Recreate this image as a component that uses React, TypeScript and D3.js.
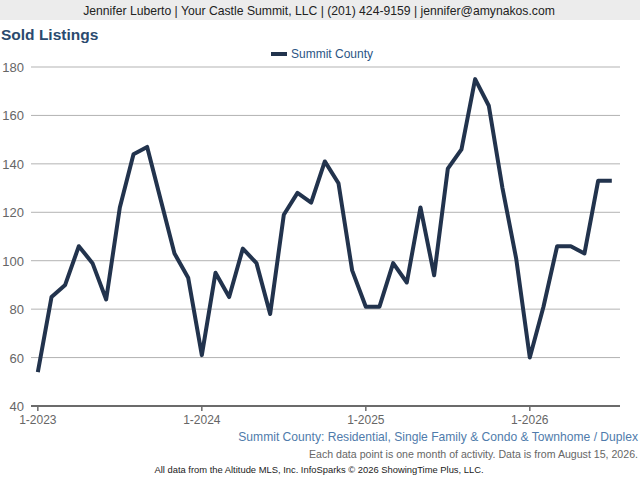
import { useEffect, useRef } from 'react'
import * as d3 from 'd3'

// Monthly sold listings, Jan 2023 – Jul 2026
const months: string[] = [
  '2023-01', '2023-02', '2023-03', '2023-04', '2023-05', '2023-06',
  '2023-07', '2023-08', '2023-09', '2023-10', '2023-11', '2023-12',
  '2024-01', '2024-02', '2024-03', '2024-04', '2024-05', '2024-06',
  '2024-07', '2024-08', '2024-09', '2024-10', '2024-11', '2024-12',
  '2025-01', '2025-02', '2025-03', '2025-04', '2025-05', '2025-06',
  '2025-07', '2025-08', '2025-09', '2025-10', '2025-11', '2025-12',
  '2026-01', '2026-02', '2026-03', '2026-04', '2026-05', '2026-06',
  '2026-07',
]
const summitCounty: number[] = [
  54, 85, 90, 106, 99, 84, 122, 144, 147, 125, 103, 93,
  61, 95, 85, 105, 99, 78, 119, 128, 124, 141, 132, 96,
  81, 81, 99, 91, 122, 94, 138, 146, 175, 164, 130, 101,
  60, 81, 106, 106, 103, 133, 133,
]
const yTicks: number[] = [40, 60, 80, 100, 120, 140, 160, 180]
const xTickIdx: number[] = [0, 12, 24, 36]
const xTickLabels: string[] = ['1-2023', '1-2024', '1-2025', '1-2026']

const W = 640
const H = 480
const FONT = '"Liberation Sans", Arial, sans-serif'

export default function App() {
  const svgRef = useRef<SVGSVGElement>(null)

  useEffect(() => {
    if (!svgRef.current) return
    const svg = d3.select(svgRef.current)
    svg.selectAll('*').remove()

    const left = 31
    const right = 620
    const top = 67
    const bottom = 406

    const x = d3.scaleLinear().domain([-0.5, months.length - 0.4]).range([left, right])
    const y = d3.scaleLinear().domain([40, 180]).range([bottom, top])

    // header band
    svg.append('rect')
      .attr('x', 0).attr('y', 0).attr('width', W).attr('height', 20)
      .attr('fill', '#ececec')
    svg.append('text')
      .attr('x', 319).attr('y', 15)
      .attr('text-anchor', 'middle')
      .style('font-size', '12.2px')
      .style('fill', '#222')
      .text('Jennifer Luberto | Your Castle Summit, LLC | (201) 424-9159 | jennifer@amynakos.com')

    svg.append('text')
      .attr('x', 1).attr('y', 40)
      .style('font-size', '15.5px')
      .style('font-weight', 'bold')
      .style('fill', '#2a4a6e')
      .text('Sold Listings')

    // legend
    svg.append('rect')
      .attr('x', 271).attr('y', 52).attr('width', 16).attr('height', 4)
      .attr('fill', '#22334d')
    svg.append('text')
      .attr('x', 291).attr('y', 58)
      .style('font-size', '12px')
      .style('fill', '#2b5585')
      .text('Summit County')

    // grid + y labels
    const grid = svg.append('g')
    grid.selectAll('line')
      .data(yTicks.filter(t => t !== 40))
      .enter().append('line')
      .attr('x1', left).attr('x2', right)
      .attr('y1', d => y(d)).attr('y2', d => y(d))
      .attr('stroke', '#b3b3b3')
      .attr('stroke-width', 1)
    grid.selectAll('text')
      .data(yTicks)
      .enter().append('text')
      .attr('x', 24)
      .attr('y', d => y(d) + 5)
      .attr('text-anchor', 'end')
      .style('font-size', '13px')
      .style('fill', '#666')
      .text(d => d)

    // x axis
    svg.append('line')
      .attr('x1', left).attr('x2', right)
      .attr('y1', bottom).attr('y2', bottom)
      .attr('stroke', '#6b6b6b')
      .attr('stroke-width', 2)
    const xt = svg.append('g')
    xt.selectAll('line')
      .data(xTickIdx)
      .enter().append('line')
      .attr('x1', d => x(d)).attr('x2', d => x(d))
      .attr('y1', bottom).attr('y2', bottom + 5)
      .attr('stroke', '#6b6b6b')
      .attr('stroke-width', 1.5)
    xt.selectAll('text')
      .data(xTickIdx)
      .enter().append('text')
      .attr('x', d => x(d))
      .attr('y', 424)
      .attr('text-anchor', 'middle')
      .style('font-size', '12px')
      .style('fill', '#666')
      .text((_, i) => xTickLabels[i])

    // series line
    const line = d3.line<number>()
      .x((_, i) => x(i))
      .y(d => y(d))
    svg.append('path')
      .datum(summitCounty)
      .attr('fill', 'none')
      .attr('stroke', '#22334d')
      .attr('stroke-width', 4)
      .attr('stroke-linejoin', 'round')
      .attr('d', line)

    // footer
    svg.append('text')
      .attr('x', 638).attr('y', 441)
      .attr('text-anchor', 'end')
      .style('font-size', '12.1px')
      .style('fill', '#4f7bab')
      .text('Summit County: Residential, Single Family & Condo & Townhome / Duplex')
    svg.append('text')
      .attr('x', 638).attr('y', 458)
      .attr('text-anchor', 'end')
      .style('font-size', '10.6px')
      .style('fill', '#666')
      .text('Each data point is one month of activity. Data is from August 15, 2026.')
    svg.append('text')
      .attr('x', 319).attr('y', 473)
      .attr('text-anchor', 'middle')
      .style('font-size', '9.4px')
      .style('fill', '#222')
      .text('All data from the Altitude MLS, Inc. InfoSparks © 2026 ShowingTime Plus, LLC.')
  }, [])

  return (
    <svg
      ref={svgRef}
      width={W}
      height={H}
      style={{ position: 'absolute', left: 0, top: 0, fontFamily: FONT, background: '#fff' }}
    />
  )
}
